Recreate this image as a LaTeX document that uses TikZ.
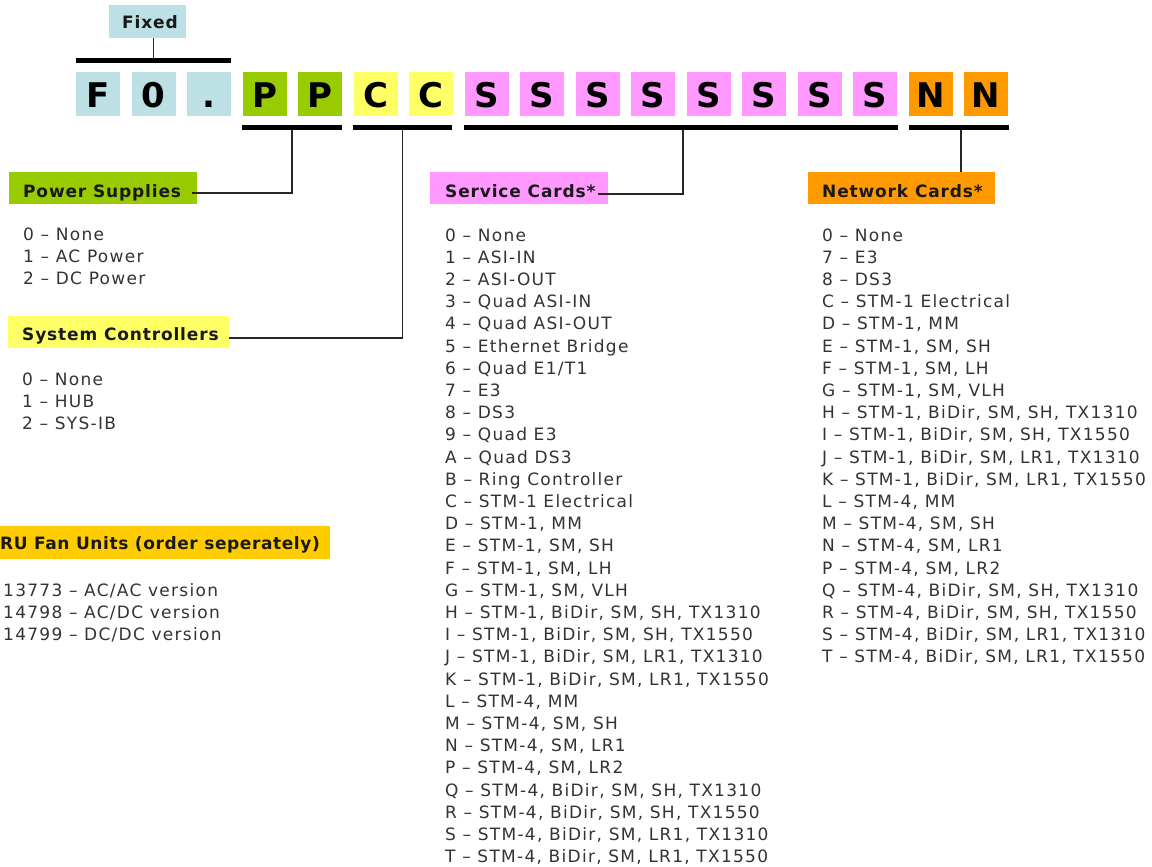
\documentclass[tikz,border=0pt]{standalone}
\usepackage{fontspec}
\setmainfont{DejaVu Sans}
\newfontfamily\itemfont[LetterSpace=7.5]{DejaVu Sans}
\newfontfamily\headfont[LetterSpace=5]{DejaVu Sans}
\newfontfamily\fanheadfont[LetterSpace=3.5]{DejaVu Sans}
\definecolor{fixc}{HTML}{BCE0E4}
\definecolor{psc}{HTML}{99CC00}
\definecolor{ctc}{HTML}{FFFF66}
\definecolor{svc}{HTML}{FF99FF}
\definecolor{nwc}{HTML}{FF9900}
\definecolor{fanc}{HTML}{FFCC00}
\definecolor{itemc}{HTML}{333333}
\tikzset{
  letterbox/.style={minimum width=44pt, minimum height=44pt, inner sep=0pt,
    text height=27pt, text depth=0pt,
    font=\fontsize{34}{34}\selectfont\bfseries},
  barbox/.style={fill=black, inner sep=0pt, minimum height=5pt, anchor=north west},
  conn/.style={draw=black!85, line width=1.5pt},
  hbox/.style={inner sep=0pt, anchor=north west},
  htext/.style={inner sep=0pt, anchor=base west, font=\headfont\bfseries\fontsize{17}{17}\selectfont, text=black!90},
  item/.style={inner sep=0pt, anchor=base west, font=\itemfont\fontsize{17}{17}\selectfont, text=itemc}
}
\begin{document}
\begin{tikzpicture}[x=1pt,y=-1pt]
\useasboundingbox[fill=white] (0,0) rectangle (1152,867);

% Fixed label
\node[hbox, fill=fixc, minimum width=77pt, minimum height=33pt] (fixed) at (109,5) {};
\node[htext] (fixedt) at (122,29) {Fixed};

% letter boxes
\foreach \L/\c [count=\i from 0] in {F/fixc,0/fixc,./fixc,P/psc,P/psc,C/ctc,C/ctc,S/svc,S/svc,S/svc,S/svc,S/svc,S/svc,S/svc,S/svc,N/nwc,N/nwc}
  \node[letterbox, fill=\c] (L\i) at (98+55.5*\i, 94) {\L};

% bars
\node[barbox, minimum width=155pt] (fixbar) at (76,58) {};
\node[barbox, minimum width=100pt] (ppbar) at (242,125) {};
\node[barbox, minimum width=99pt] (ccbar) at (353,125) {};
\node[barbox, minimum width=434pt] (ssbar) at (464,125) {};
\node[barbox, minimum width=100pt] (nnbar) at (909,125) {};

% heading boxes
\node[hbox, fill=psc, minimum width=188pt, minimum height=32pt] (ps) at (9,172) {};
\node[htext] (pst) at (23,197) {Power Supplies};
\node[hbox, fill=ctc, minimum width=221pt, minimum height=32pt] (sys) at (8,316) {};
\node[htext] (syst) at (22,340) {System Controllers};
\node[hbox, fill=svc, minimum width=178pt, minimum height=32pt] (svcb) at (430,172) {};
\node[htext] (svct) at (445,197) {Service Cards*};
\node[hbox, fill=nwc, minimum width=187pt, minimum height=32pt] (nwb) at (808,172) {};
\node[htext] (nwt) at (822,197) {Network Cards*};
\node[hbox, fill=fanc, minimum width=330pt, minimum height=33pt] (fan) at (0,526) {};
\node[htext, font=\fanheadfont\bfseries\fontsize{17}{17}\selectfont] (fant) at (0,549) {RU Fan Units (order seperately)};

% connectors
\coordinate (psend) at (192,193);
\coordinate (sysend) at (229,338);
\coordinate (svend) at (598,194);
\draw[conn] (fixbar.north) -- (fixbar.north |- fixed.south);
\draw[conn] (ppbar.south) |- (psend);
\draw[conn] (ccbar.south) |- (sysend);
\draw[conn] ([xshift=2pt]ssbar.south) |- (svend);
\draw[conn] ([xshift=2pt]nnbar.south) -- ([xshift=2pt]nnbar.south |- nwb.north);

% lists
\foreach \t [count=\i from 0] in {0 – None, 1 – AC Power, 2 – DC Power}
  \node[item] (psi\i) at (23, 240+22.2*\i) {\t};
\foreach \t [count=\i from 0] in {0 – None, 1 – HUB, 2 – SYS-IB}
  \node[item] (sysi\i) at (22, 385+22.2*\i) {\t};
\foreach \t [count=\i from 0] in {13773 – AC/AC version, 14798 – AC/DC version, 14799 – DC/DC version}
  \node[item] (fani\i) at (3, 596+22.2*\i) {\t};
\foreach \t [count=\i from 0] in {0 – None, 1 – ASI-IN, 2 – ASI-OUT, 3 – Quad ASI-IN, 4 – Quad ASI-OUT,
  5 – Ethernet Bridge, 6 – Quad E1/T1, 7 – E3, 8 – DS3, 9 – Quad E3, A – Quad DS3, B – Ring Controller,
  C – STM-1 Electrical, {D – STM-1, MM}, {E – STM-1, SM, SH}, {F – STM-1, SM, LH}, {G – STM-1, SM, VLH},
  {H – STM-1, BiDir, SM, SH, TX1310}, {I – STM-1, BiDir, SM, SH, TX1550}, {J – STM-1, BiDir, SM, LR1, TX1310},
  {K – STM-1, BiDir, SM, LR1, TX1550}, {L – STM-4, MM}, {M – STM-4, SM, SH}, {N – STM-4, SM, LR1},
  {P – STM-4, SM, LR2}, {Q – STM-4, BiDir, SM, SH, TX1310}, {R – STM-4, BiDir, SM, SH, TX1550},
  {S – STM-4, BiDir, SM, LR1, TX1310}, {T – STM-4, BiDir, SM, LR1, TX1550}}
  \node[item] (svi\i) at (445, 241+22.2*\i) {\t};
\foreach \t [count=\i from 0] in {0 – None, 7 – E3, 8 – DS3, C – STM-1 Electrical, {D – STM-1, MM},
  {E – STM-1, SM, SH}, {F – STM-1, SM, LH}, {G – STM-1, SM, VLH},
  {H – STM-1, BiDir, SM, SH, TX1310}, {I – STM-1, BiDir, SM, SH, TX1550}, {J – STM-1, BiDir, SM, LR1, TX1310},
  {K – STM-1, BiDir, SM, LR1, TX1550}, {L – STM-4, MM}, {M – STM-4, SM, SH}, {N – STM-4, SM, LR1},
  {P – STM-4, SM, LR2}, {Q – STM-4, BiDir, SM, SH, TX1310}, {R – STM-4, BiDir, SM, SH, TX1550},
  {S – STM-4, BiDir, SM, LR1, TX1310}, {T – STM-4, BiDir, SM, LR1, TX1550}}
  \node[item] (nwi\i) at (822, 241+22.2*\i) {\t};
\end{tikzpicture}
\end{document}
